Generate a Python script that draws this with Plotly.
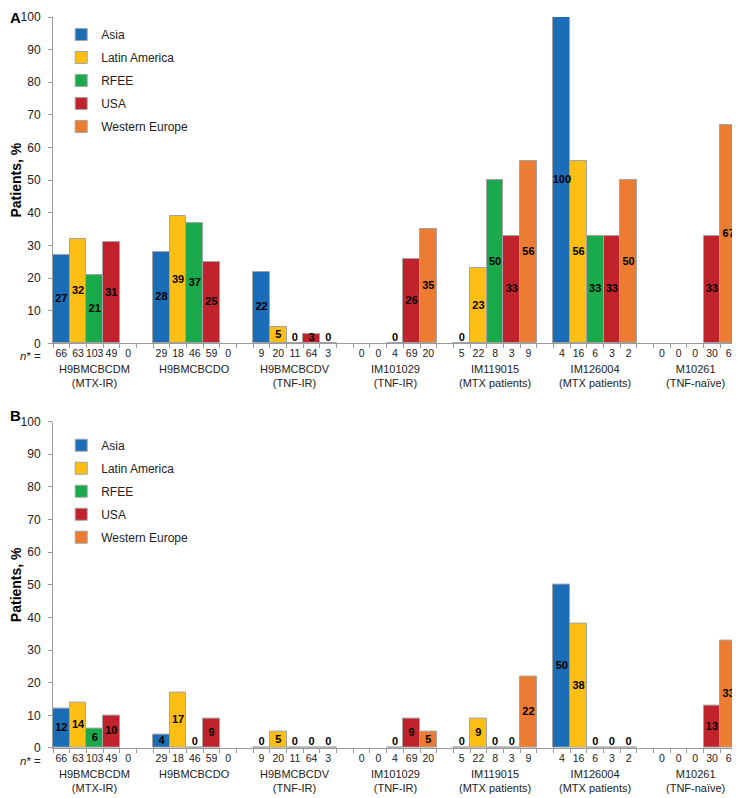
import plotly.graph_objects as go
from plotly.subplots import make_subplots

# studies (groups) and regions
studies = ["H9BMCBCDM<br>(MTX-IR)", "H9BMCBCDO", "H9BMCBCDV<br>(TNF-IR)", "IM101029<br>(TNF-IR)",
           "IM119015<br>(MTX patients)", "IM126004<br>(MTX patients)", "M10261<br>(TNF-naïve)"]
regions = ["Asia", "Latin America", "RFEE", "USA", "Western Europe"]
colors = ["#1a6db6", "#fdbf14", "#1aa94b", "#c0232b", "#ec7c31"]

# n* per study, in region order
n_asia = [66, 29, 9, 0, 5, 4, 0]
n_latam = [63, 18, 20, 0, 22, 16, 0]
n_rfee = [103, 46, 11, 4, 8, 6, 0]
n_usa = [49, 59, 64, 69, 3, 3, 30]
n_weu = [0, 0, 3, 20, 9, 2, 6]

# panel A, % patients (None = no patients in that region)
a_asia = [27, 28, 22, None, 0, 100, None]
a_latam = [32, 39, 5, None, 23, 56, None]
a_rfee = [21, 37, 0, 0, 50, 33, None]
a_usa = [31, 25, 3, 26, 33, 33, 33]
a_weu = [None, None, 0, 35, 56, 50, 67]

# panel B, % patients
b_asia = [12, 4, 0, None, 0, 50, None]
b_latam = [14, 17, 5, None, 9, 38, None]
b_rfee = [6, 0, 0, 0, 0, 0, None]
b_usa = [10, 9, 0, 9, 0, 0, 13]
b_weu = [None, None, 0, 5, 22, 0, 33]

n_all = [n_asia, n_latam, n_rfee, n_usa, n_weu]
panel_a = [a_asia, a_latam, a_rfee, a_usa, a_weu]
panel_b = [b_asia, b_latam, b_rfee, b_usa, b_weu]

FONT = "Liberation Sans, Arial, sans-serif"
SLOTS = 6  # 5 regions + 1 gap per study

fig = make_subplots(rows=2, cols=1, vertical_spacing=0.107)

# tick positions / labels for n*
tick_x, tick_t = [], []
for g in range(len(studies)):
    for k in range(len(regions)):
        tick_x.append(g * SLOTS + k + 0.5)
        tick_t.append(str(n_all[k][g]))

for row, panel, leg in [(1, panel_a, "legend"), (2, panel_b, "legend2")]:
    for k, name in enumerate(regions):
        xs = [g * SLOTS + k + 0.5 for g in range(len(studies))]
        vals = panel[k]
        fig.add_trace(go.Bar(x=xs, y=vals, width=1, name=name, legend=leg, legendgroup=name + leg,
                             marker=dict(color=colors[k], line=dict(color="#a3a3a3", width=1)),
                             hoverinfo="skip"), row=row, col=1)
        # value labels
        lx, ly, lt, lp = [], [], [], []
        for x, v in zip(xs, vals):
            if v is None:
                continue
            lx.append(x)
            lt.append("<b>%d</b>" % v)
            if v == 0:
                ly.append(0)
                lp.append("top center")
            else:
                ly.append(v / 2)
                lp.append("middle center")
        fig.add_trace(go.Scatter(x=lx, y=ly, text=lt, mode="text", textposition=lp, cliponaxis=False,
                                 textfont=dict(family=FONT, size=11, color="black"),
                                 showlegend=False, hoverinfo="skip"), row=row, col=1)

    yref = "y" if row == 1 else "y2"
    xref = "x" if row == 1 else "x2"
    for g, s in enumerate(studies):
        fig.add_annotation(x=g * SLOTS + 2.5, y=0, xref=xref, yref=yref, text=s, showarrow=False,
                           yanchor="top", yshift=-18, font=dict(family=FONT, size=11, color="#222"))
    fig.add_annotation(x=-0.014, y=0, xref="paper", yref=yref, text="<i>n</i>* =", showarrow=False,
                       xanchor="right", yanchor="middle", yshift=-13,
                       font=dict(family=FONT, size=11.5, color="#222"))

fig.update_xaxes(range=[0, 41], tickmode="array", tickvals=tick_x, ticktext=tick_t, ticks="",
                 tickangle=0, automargin=False,
                 showline=True, linecolor="#9a9a9a", linewidth=1, showgrid=False, zeroline=False,
                 tickfont=dict(family=FONT, size=10.5, color="#222"),
                 minor=dict(tickmode="array", tickvals=list(range(42)), ticks="outside",
                            ticklen=4, tickcolor="#9a9a9a", showgrid=False))
fig.update_yaxes(range=[0, 100], dtick=10, ticks="outside", ticklen=4, tickcolor="#9a9a9a",
                 automargin=False, ticklabelstandoff=5,
                 showline=True, linecolor="#9a9a9a", linewidth=1, showgrid=False, zeroline=False,
                 tickfont=dict(family=FONT, size=12, color="#222"),
                 title=dict(text="<b>Patients, %</b>", font=dict(family=FONT, size=14, color="black"),
                            standoff=0))

leg_style = dict(font=dict(family=FONT, size=12, color="#222"), bgcolor="rgba(0,0,0,0)",
                 traceorder="grouped", tracegroupgap=4, xanchor="left", yanchor="top")
# the page has an 8px body margin, so the figure is 8px smaller than the window
fig.update_layout(
    width=732, height=790, barmode="overlay", bargap=0,
    plot_bgcolor="white", paper_bgcolor="white",
    margin=dict(l=45, r=3, t=9, b=50),
    legend=dict(x=0.012, y=0.996, **leg_style),
    legend2=dict(x=0.012, y=0.434, **leg_style),
)
fig.add_annotation(x=0, y=1, xref="paper", yref="paper", xanchor="left", yanchor="top",
                   xshift=-45, yshift=10, text="<b>A</b>", showarrow=False,
                   font=dict(family=FONT, size=15, color="black"))
fig.add_annotation(x=0, y=0.446, xref="paper", yref="paper", xanchor="left", yanchor="top",
                   xshift=-45, yshift=17, text="<b>B</b>", showarrow=False,
                   font=dict(family=FONT, size=15, color="black"))

fig.write_html("out.html")
